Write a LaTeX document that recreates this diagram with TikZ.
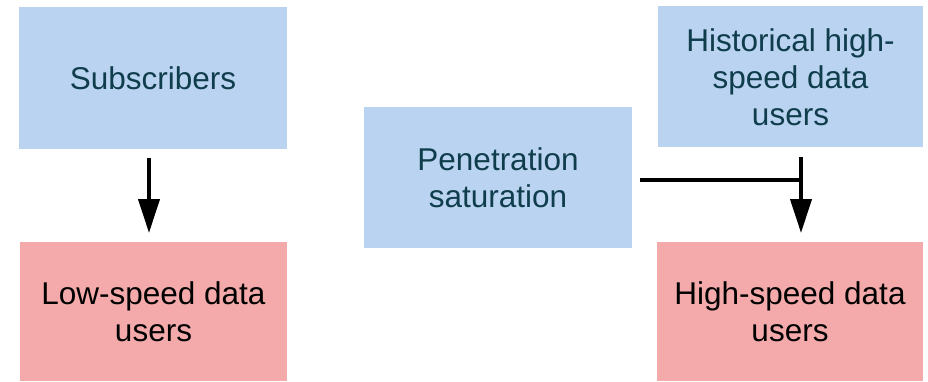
\documentclass[tikz,border=0pt]{standalone}
\usepackage{fontspec}
\setmainfont{Liberation Sans}
\usetikzlibrary{arrows.meta}
\definecolor{boxblue}{HTML}{BAD3F1}
\definecolor{boxpink}{HTML}{F4AAAA}
\definecolor{inktext}{HTML}{0F3D4C}
\begin{document}
\begin{tikzpicture}[x=1pt,y=-1pt,
  box/.style={inner sep=0pt, align=center,
    font=\fontsize{31.5}{37}\selectfont},
  inbox/.style={box, fill=boxblue, text=inktext},
  outbox/.style={box, fill=boxpink, text=black},
  link/.style={line width=4pt},
  arr/.style={link, -{Triangle[length=34pt,width=21pt]}}]
\path[use as bounding box] (0,0) rectangle (928,382);

% source boxes
\node[inbox, minimum width=268pt, minimum height=142pt] (sub) at (153,78) {Subscribers};
\node[inbox, minimum width=268pt, minimum height=141pt] (pen) at (498,177.5) {Penetration\\saturation};
\node[inbox, minimum width=265pt, minimum height=141pt] (hist) at (790.5,77) {Historical high-\\speed data\\users};

% result boxes
\node[outbox, minimum width=267pt, minimum height=139pt] (low) at (153.5,311.5) {Low-speed data\\users};
\node[outbox, minimum width=266pt, minimum height=139pt] (high) at (790,311.5) {High-speed data\\users};

% connector end points
\coordinate (subout) at (149,158);
\coordinate (lowin) at (149,233);
\coordinate (histout) at (801,157);
\coordinate (highin) at (801,233);
\coordinate (penout) at (640,180);
\coordinate (join) at (801,180);

\draw[arr] (subout) -- (lowin);
\draw[arr] (histout) -- (highin);
\draw[link] (penout) -- (join);
\end{tikzpicture}
\end{document}
